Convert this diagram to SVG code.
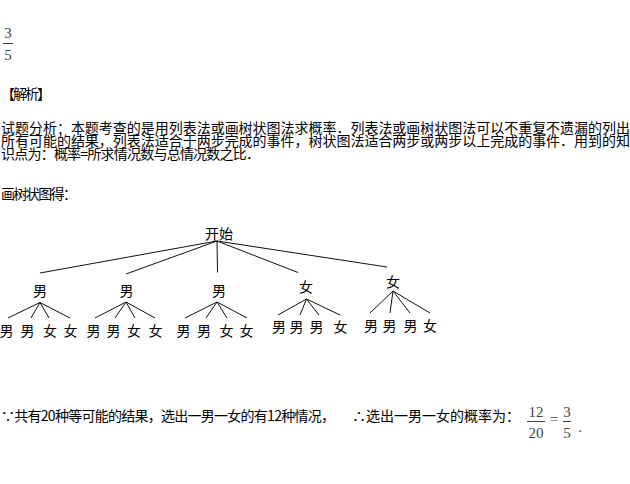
<svg xmlns="http://www.w3.org/2000/svg" width="630" height="484" viewBox="0 0 630 484">
<style>
.t{font-family:"Noto Sans CJK SC","Liberation Sans",sans-serif;font-size:14px;fill:#000}
.n{font-family:"Noto Sans CJK SC","Liberation Sans",sans-serif;font-size:14px;fill:#000;text-anchor:middle}
.f{font-family:"Liberation Serif",serif;font-size:15px;fill:#444;text-anchor:middle}
.c line{stroke:#111;stroke-width:1}
.bar{stroke:#444;stroke-width:1}
</style>
<rect width="630" height="484" fill="#fff"/>
<g id="answer">
<text class="f" x="8" y="38">3</text>
<line class="bar" x1="3" y1="43.5" x2="13" y2="43.5"/>
<text class="f" x="8" y="60">5</text>
</g>
<text class="t" x="1" y="99" textLength="50">【解析】</text>
<text class="t" x="1" y="133" textLength="629">试题分析：本题考查的是用列表法或画树状图法求概率．列表法或画树状图法可以不重复不遗漏的列出</text>
<text class="t" x="1" y="146" textLength="629">所有可能的结果，列表法适合于两步完成的事件，树状图法适合两步或两步以上完成的事件．用到的知</text>
<text class="t" x="1" y="159" textLength="259">识点为：概率=所求情况数与总情况数之比．</text>
<text class="t" x="1" y="199" textLength="76">画树状图得：</text>
<g class="c" id="connectors">
<line x1="217" y1="241" x2="40" y2="273"/>
<line x1="217" y1="241" x2="126" y2="274"/>
<line x1="217" y1="241" x2="217.5" y2="272.5"/>
<line x1="217" y1="241" x2="298" y2="272.5"/>
<line x1="217" y1="241" x2="387" y2="267"/>
<line x1="40" y1="302.5" x2="8" y2="318"/>
<line x1="40" y1="302.5" x2="31" y2="318"/>
<line x1="40" y1="302.5" x2="49" y2="318"/>
<line x1="40" y1="302.5" x2="70" y2="318"/>
<line x1="126" y1="302" x2="95" y2="318"/>
<line x1="126" y1="302" x2="115" y2="318"/>
<line x1="126" y1="302" x2="135" y2="318"/>
<line x1="126" y1="302" x2="155" y2="318"/>
<line x1="217" y1="302" x2="185" y2="318"/>
<line x1="217" y1="302" x2="206" y2="318"/>
<line x1="217" y1="302" x2="227" y2="318"/>
<line x1="217" y1="302" x2="247" y2="318"/>
<line x1="306.5" y1="299" x2="278" y2="315"/>
<line x1="306.5" y1="299" x2="300" y2="315"/>
<line x1="306.5" y1="299" x2="319" y2="315"/>
<line x1="306.5" y1="299" x2="340" y2="315"/>
<line x1="393" y1="291" x2="370" y2="313"/>
<line x1="393" y1="291" x2="390" y2="313"/>
<line x1="393" y1="291" x2="410" y2="313"/>
<line x1="393" y1="291" x2="430" y2="313"/>
</g>
<g id="root"><text class="n" x="219" y="239">开始</text></g>
<g id="l1a"><text class="n" x="40" y="296">男</text></g>
<g id="l1b"><text class="n" x="126.5" y="296">男</text></g>
<g id="l1c"><text class="n" x="219" y="296">男</text></g>
<g id="l1d"><text class="n" x="306" y="292">女</text></g>
<g id="l1e"><text class="n" x="393" y="287">女</text></g>
<g id="g1">
<text class="n" x="6.5" y="336">男</text>
<text class="n" x="27.5" y="336">男</text>
<text class="n" x="50" y="336">女</text>
<text class="n" x="70.5" y="336">女</text>
</g>
<g id="g2">
<text class="n" x="93.5" y="336">男</text>
<text class="n" x="113.5" y="336">男</text>
<text class="n" x="134" y="336">女</text>
<text class="n" x="155.5" y="336">女</text>
</g>
<g id="g3">
<text class="n" x="183.5" y="336">男</text>
<text class="n" x="204" y="336">男</text>
<text class="n" x="226.5" y="336">女</text>
<text class="n" x="246.5" y="336">女</text>
</g>
<g id="g4">
<text class="n" x="279" y="332">男</text>
<text class="n" x="296.5" y="332">男</text>
<text class="n" x="316.5" y="332">男</text>
<text class="n" x="340.5" y="332">女</text>
</g>
<g id="g5">
<text class="n" x="371" y="331">男</text>
<text class="n" x="389.5" y="331">男</text>
<text class="n" x="410.5" y="331">男</text>
<text class="n" x="430" y="331">女</text>
</g>
<text class="t" x="1" y="421" textLength="334">∵共有20种等可能的结果，选出一男一女的有12种情况，</text>
<text class="t" x="352" y="421" textLength="168">∴选出一男一女的概率为：</text>
<g id="result">
<text class="f" x="536" y="417">12</text>
<line class="bar" x1="527" y1="421.5" x2="545" y2="421.5"/>
<text class="f" x="536" y="438">20</text>
<text class="f" x="554" y="424">=</text>
<text class="f" x="567" y="417">3</text>
<line class="bar" x1="563" y1="421.5" x2="571" y2="421.5"/>
<text class="f" x="567" y="438">5</text>
<text class="f" x="580" y="432">.</text>
</g>
</svg>
